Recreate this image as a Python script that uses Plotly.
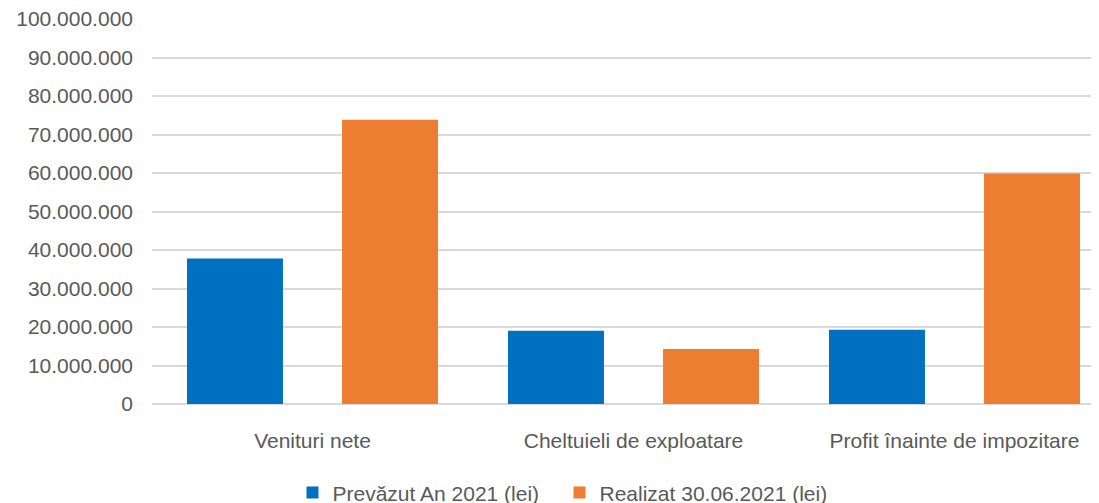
import plotly.graph_objects as go

categorii = ['Venituri nete', 'Cheltuieli de exploatare', 'Profit înainte de impozitare']
prevazut = [37800000, 19000000, 19300000]
realizat = [73800000, 14300000, 59900000]
serii = ['Prevăzut An 2021 (lei)', 'Realizat 30.06.2021 (lei)']

fig = go.Figure()
fig.add_trace(go.Bar(x=categorii, y=prevazut, name=serii[0],
                     marker=dict(color='#0070C0', line=dict(width=0))))
fig.add_trace(go.Bar(x=categorii, y=realizat, name=serii[1],
                     marker=dict(color='#ED7D31', line=dict(width=0))))

# the page body adds an 8px offset, so margins are trimmed by that much;
# the plot area runs a little past the right edge of the window, as in the original
fig.update_layout(
    width=1107, height=503,
    margin=dict(l=144, r=0, t=11, b=107),
    plot_bgcolor='white', paper_bgcolor='white',
    barmode='group', bargap=0.034, bargroupgap=0.381,
    separators=',.',
    font=dict(family='Liberation Sans', color='#595959'),
    showlegend=True,
    legend=dict(orientation='h', xref='container', yref='container',
                x=0.257, xanchor='left', y=0.036, yanchor='middle',
                font=dict(size=21, color='#595959'),
                entrywidth=222, entrywidthmode='pixels', traceorder='normal'),
)
fig.update_yaxes(range=[0, 100000000], dtick=10000000, tickformat=',d', automargin=False,
                 ticklabeloverflow='allow',
                 gridcolor='#d9d9d9', gridwidth=2, zerolinecolor='#d9d9d9', zerolinewidth=2,
                 tickfont=dict(size=21, color='#595959'), ticklabelstandoff=18, showline=False)
fig.update_xaxes(tickfont=dict(size=21, color='#595959'), automargin=False,
                 ticklabelstandoff=22, showline=False)

fig.write_html("out.html")
